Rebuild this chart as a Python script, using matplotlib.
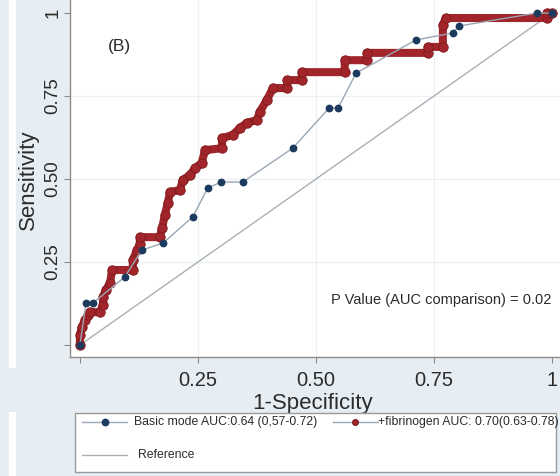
import matplotlib
matplotlib.use("Agg")
import matplotlib.pyplot as plt
from matplotlib.patches import Rectangle
from matplotlib.lines import Line2D

plt.rcParams['font.family'] = ['Liberation Sans', 'DejaVu Sans']

# ROC coordinates (1-specificity, sensitivity)
basic_fpr = [0.0, 0.013, 0.028, 0.095, 0.131, 0.176, 0.239, 0.271, 0.299, 0.345,
             0.451, 0.528, 0.547, 0.585, 0.712, 0.790, 0.803, 0.968, 1.0]
basic_tpr = [0.0, 0.127, 0.127, 0.205, 0.286, 0.307, 0.386, 0.473, 0.491, 0.491,
             0.593, 0.714, 0.714, 0.819, 0.919, 0.940, 0.961, 1.0, 1.0]

fib_fpr = [0.0, 0.0, 0.004, 0.011, 0.017, 0.021, 0.042, 0.049, 0.049, 0.055,
           0.064, 0.068, 0.112, 0.112, 0.121, 0.127, 0.127, 0.169, 0.174, 0.180,
           0.186, 0.191, 0.212, 0.218, 0.233, 0.244, 0.258, 0.265, 0.301, 0.301,
           0.324, 0.339, 0.354, 0.375, 0.381, 0.396, 0.409, 0.439, 0.439, 0.470,
           0.470, 0.561, 0.561, 0.608, 0.608, 0.737, 0.737, 0.769, 0.769, 0.775,
           0.989, 0.989, 1.0]
fib_tpr = [0.0, 0.030, 0.054, 0.075, 0.090, 0.099, 0.099, 0.120, 0.145, 0.166,
           0.187, 0.226, 0.226, 0.256, 0.286, 0.304, 0.325, 0.325, 0.352, 0.392,
           0.428, 0.461, 0.467, 0.497, 0.512, 0.533, 0.548, 0.587, 0.593, 0.623,
           0.633, 0.654, 0.669, 0.678, 0.702, 0.738, 0.774, 0.774, 0.798, 0.798,
           0.822, 0.822, 0.858, 0.858, 0.880, 0.880, 0.898, 0.898, 0.964, 0.985,
           0.985, 1.0, 1.0]

ref_line = [0.0, 1.0]

tick_values = [0.0, 0.25, 0.5, 0.75, 1.0]
tick_labels = ['', '0.25', '0.50', '0.75', '1']

basic_label = 'Basic mode AUC:0.64 (0,57-0.72)'
fib_label = '+fibrinogen AUC: 0.70(0.63-0.78)'
ref_label = 'Reference'
panel_tag = '(B)'
p_text = 'P Value (AUC comparison) = 0.02'

BG = '#e7eef3'
BLUE = '#1c3a5e'
BLUE_LINE = '#9aa6b4'
RED = '#a1252a'
RED_EDGE = '#7e1a1e'
REF = '#a9afb5'
TXT = '#2b2b2b'

W, H = 560, 476
fig = plt.figure(figsize=(W / 100, H / 100), dpi=100, facecolor=BG)


def fx(x):
    return x / W


def fy(y):
    return 1 - y / H


# thin white strips on the left edge
fig.add_artist(Rectangle((fx(9), fy(368)), fx(7), 368 / H, transform=fig.transFigure,
                         facecolor='white', edgecolor='none', zorder=0))
fig.add_artist(Rectangle((fx(9), 0), fx(7), fy(412), transform=fig.transFigure,
                         facecolor='white', edgecolor='none', zorder=0))

# axes: 472 px per unit in x, 332 px per unit in y
x0, x1 = -0.021, 1.05
y0, y1 = -0.036, 1.08
ax = fig.add_axes([fx(70), fy(357), (x1 - x0) * 472 / W, (y1 - y0) * 332 / H])
ax.set_facecolor('white')
ax.set_xlim(x0, x1)
ax.set_ylim(y0, y1)

for s in ['top', 'right']:
    ax.spines[s].set_visible(False)
for s in ['left', 'bottom']:
    ax.spines[s].set_color('#8c8c8c')
    ax.spines[s].set_linewidth(1.0)

ax.set_xticks(tick_values)
ax.set_xticklabels(tick_labels)
ax.set_yticks(tick_values)
ax.set_yticklabels(tick_labels, rotation=90, va='center')
ax.tick_params(axis='both', direction='out', length=4, width=0.8, color='#8c8c8c',
               labelcolor=TXT)
ax.tick_params(axis='x', labelsize=14.5, pad=6)
ax.tick_params(axis='y', labelsize=13.5, pad=2)

for v in tick_values[1:4]:
    ax.axvline(v, color='#eef1f4', lw=0.9, zorder=0)
    ax.axhline(v, color='#eef1f4', lw=0.9, zorder=0)

ax.plot(ref_line, ref_line, color=REF, lw=1.0, zorder=1)

ax.plot(fib_fpr, fib_tpr, color=RED, lw=5.8, solid_joinstyle='round',
        solid_capstyle='round', zorder=2)
ax.plot(fib_fpr, fib_tpr, linestyle='none', marker='o', ms=6.8, color=RED,
        markeredgecolor=RED_EDGE, markeredgewidth=0.6, zorder=3)

ax.plot(basic_fpr, basic_tpr, color=BLUE_LINE, lw=1.0, zorder=4)
ax.plot(basic_fpr, basic_tpr, linestyle='none', marker='o', ms=4.6, color=BLUE,
        markeredgecolor=BLUE, zorder=5)

ax.text(0.083, 0.898, panel_tag, fontsize=12.5, color=TXT, ha='center', va='center')
ax.text(0.765, 0.136, p_text, fontsize=10.5, color=TXT, ha='center', va='center')

ax.set_xlabel('1-Specificity', fontsize=16, color=TXT)
ax.xaxis.set_label_coords(fx(313), fy(404), transform=fig.transFigure)
ax.xaxis.label.set_va('center')
ax.set_ylabel('Sensitivity', fontsize=16, color=TXT)
ax.yaxis.set_label_coords(fx(28), fy(180), transform=fig.transFigure)
ax.yaxis.label.set_va('center')

# legend box
fig.add_artist(Rectangle((fx(75), fy(472)), fx(556 - 75), (472 - 413) / H,
                         transform=fig.transFigure, facecolor='white',
                         edgecolor='#9a9a9a', lw=1.0, zorder=5))
r1, r2 = 422, 455
fig.add_artist(Line2D([fx(82), fx(127)], [fy(r1), fy(r1)], transform=fig.transFigure,
                      color=BLUE_LINE, lw=1.0, zorder=6))
fig.add_artist(Line2D([fx(105)], [fy(r1)], transform=fig.transFigure, marker='o',
                      ms=4.6, color=BLUE, zorder=7))
fig.text(fx(134), fy(r1), basic_label, fontsize=8.8, color=TXT, va='center', zorder=7)

fig.add_artist(Line2D([fx(333), fx(378)], [fy(r1), fy(r1)], transform=fig.transFigure,
                      color=BLUE_LINE, lw=1.0, zorder=6))
fig.add_artist(Line2D([fx(355)], [fy(r1)], transform=fig.transFigure, marker='o',
                      ms=4.0, color=RED, markeredgecolor=RED_EDGE, zorder=7))
fig.text(fx(378), fy(r1), fib_label, fontsize=8.8, color=TXT, va='center', zorder=7)

fig.add_artist(Line2D([fx(82), fx(127)], [fy(r2), fy(r2)], transform=fig.transFigure,
                      color=REF, lw=1.0, zorder=6))
fig.text(fx(138), fy(r2), ref_label, fontsize=8.8, color=TXT, va='center', zorder=7)

fig.savefig('out.png', dpi=100, facecolor=BG)
